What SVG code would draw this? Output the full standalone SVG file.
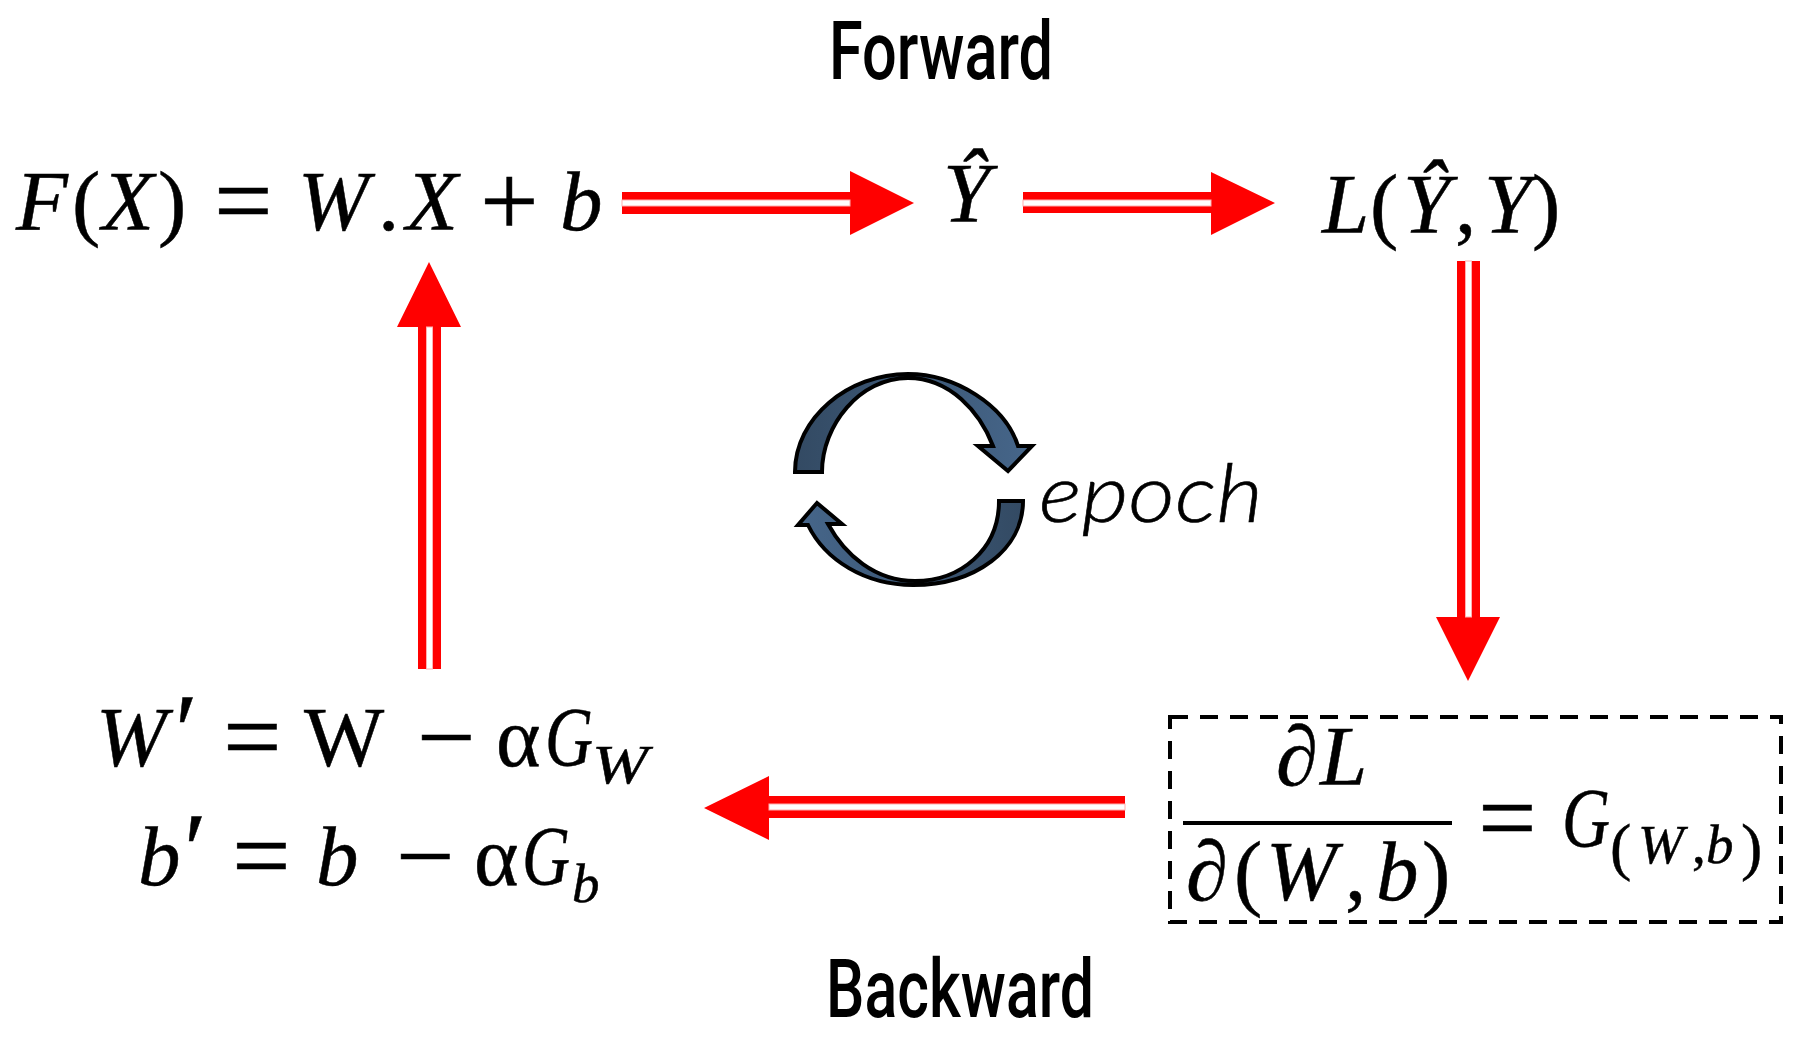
<svg xmlns="http://www.w3.org/2000/svg" width="1813" height="1038" viewBox="0 0 1813 1038">
<style>
text{font-family:"Liberation Serif","Times New Roman",serif;fill:#000}
.m{font-size:85px;font-style:italic;stroke:#000;stroke-width:.5px}
.u{font-style:normal}
.o{font-size:104px;font-style:normal}
.s{font-size:55px}
.sp{font-size:64px;font-style:normal}
.h{font-family:Roboto,"Liberation Sans",Arial,sans-serif;font-weight:500;font-size:81px}
.e{font-family:Lato,"Open Sans",sans-serif;font-weight:300;font-style:italic;font-size:80px;stroke:#000;stroke-width:.6px}
.a{fill:#f00}
.w{fill:#fff;stroke:#ffb0b0;stroke-width:1}
.c{stroke:#000;stroke-width:4;stroke-linejoin:miter}
</style>
<defs>
<linearGradient id="g1" x1="0" y1="0" x2="1" y2="0"><stop offset="0" stop-color="#334a63"/><stop offset="1" stop-color="#46668a"/></linearGradient>
<linearGradient id="g2" x1="0" y1="0" x2="1" y2="0"><stop offset="0" stop-color="#46668a"/><stop offset="1" stop-color="#334a63"/></linearGradient>
</defs>
<rect width="1813" height="1038" fill="#fff"/>
<g id="connectors">
<g id="arrow-f-yhat"><path class="a" d="M622 192H850V171L914 203L850 235V214H622Z"/><rect class="w" x="622" y="200" width="228" height="6"/></g>
<g id="arrow-yhat-loss"><path class="a" d="M1023 192H1211V172L1275 203L1211 235V213H1023Z"/><rect class="w" x="1023" y="200" width="188" height="6"/></g>
<g id="arrow-loss-grad"><path class="a" d="M1457 261H1480V617H1500L1468 681L1436 617H1457Z"/><rect class="w" x="1465.500" y="261" width="6" height="356"/></g>
<g id="arrow-grad-update"><path class="a" d="M1125 796V818H769V840L704 808L769 776V796Z"/><rect class="w" x="769" y="804" width="356" height="6"/></g>
<g id="arrow-update-f"><path class="a" d="M418 669V327H397L429 262L461 327H441V669Z"/><rect class="w" x="426.500" y="327" width="6" height="342"/></g>
</g>
<g id="node-forward"><text class="h" x="829" y="79" textLength="224" lengthAdjust="spacingAndGlyphs">Forward</text></g>
<g id="node-model"><text class="m" y="230"><tspan x="16">F</tspan><tspan class="u" x="72">(</tspan><tspan x="102">X</tspan><tspan class="u" x="158">)</tspan><tspan class="o" x="214" y="236">=</tspan><tspan x="298" y="230">W</tspan><tspan class="u" x="378">.</tspan><tspan x="406">X</tspan><tspan class="o" x="480" y="236">+</tspan><tspan x="560" y="230">b</tspan></text></g>
<g id="node-yhat"><text class="m" x="943" y="222">Ŷ</text></g>
<g id="node-loss"><text class="m" y="233"><tspan x="1322">L</tspan><tspan class="u" x="1370">(</tspan><tspan x="1403">Ŷ</tspan><tspan class="u" x="1455">,</tspan><tspan x="1484">Y</tspan><tspan class="u" x="1532">)</tspan></text></g>
<g id="node-gradient">
<rect x="1170" y="717" width="611" height="205" fill="none" stroke="#000" stroke-width="4" stroke-dasharray="18 12"/>
<rect x="1183" y="821" width="269" height="4" fill="#000"/>
<text class="m" y="785"><tspan x="1276">∂</tspan><tspan x="1320">L</tspan></text>
<text class="m" y="900"><tspan x="1186">∂</tspan><tspan class="u" x="1234">(</tspan><tspan x="1266">W</tspan><tspan class="u" x="1345">,</tspan><tspan x="1376">b</tspan><tspan class="u" x="1422">)</tspan></text>
<text class="m" y="847"><tspan class="o" x="1478" y="853">=</tspan></text>
<text class="m" x="1562" y="847" textLength="48" lengthAdjust="spacingAndGlyphs">G</text>
<text class="s m" y="863" style="font-size:55px"><tspan class="sp" x="1610" y="868">(</tspan><tspan x="1638" y="863">W</tspan><tspan class="u" x="1692">,</tspan><tspan x="1706">b</tspan><tspan class="sp" x="1741" y="868">)</tspan></text>
</g>
<g id="node-update">
<text class="m" y="766"><tspan x="96">W</tspan><tspan class="o" x="175">′</tspan><tspan class="o" x="223" y="772">=</tspan><tspan class="u" x="304" y="766">W</tspan><tspan class="o" x="417" y="772">−</tspan><tspan class="u" x="496" y="766">α</tspan></text>
<text class="m" x="545" y="766" textLength="48" lengthAdjust="spacingAndGlyphs">G</text>
<text class="m" x="592" y="783" style="font-size:55px" textLength="56" lengthAdjust="spacingAndGlyphs">W</text>
<text class="m" y="885"><tspan x="138">b</tspan><tspan class="o" x="184">′</tspan><tspan class="o" x="232" y="891">=</tspan><tspan x="316" y="885">b</tspan><tspan class="o" x="396" y="891">−</tspan><tspan class="u" x="474" y="885">α</tspan></text>
<text class="m" x="522" y="885" textLength="48" lengthAdjust="spacingAndGlyphs">G</text>
<text class="m" x="572" y="902" style="font-size:55px">b</text>
</g>
<g id="node-epoch">
<path class="c" fill="url(#g1)" d="M795 472C795 418 848 374 908 374C955 374 1005 405 1018 446H1032L1008 471L978 446H993C980 412 950 378 908 378C860 378 822 425 822 472Z"/>
<path class="c" fill="url(#g2)" d="M1023 501C1023 550 975 585 913 585C865 585 825 560 808 525H798L817 503L842 524H828C845 555 875 581 915 581C960 581 999 550 999 501Z"/>
<text class="e" x="1039" y="522" textLength="224" lengthAdjust="spacingAndGlyphs">epoch</text>
</g>
<g id="node-backward"><text class="h" x="826" y="1017" textLength="268" lengthAdjust="spacingAndGlyphs">Backward</text></g>
</svg>
